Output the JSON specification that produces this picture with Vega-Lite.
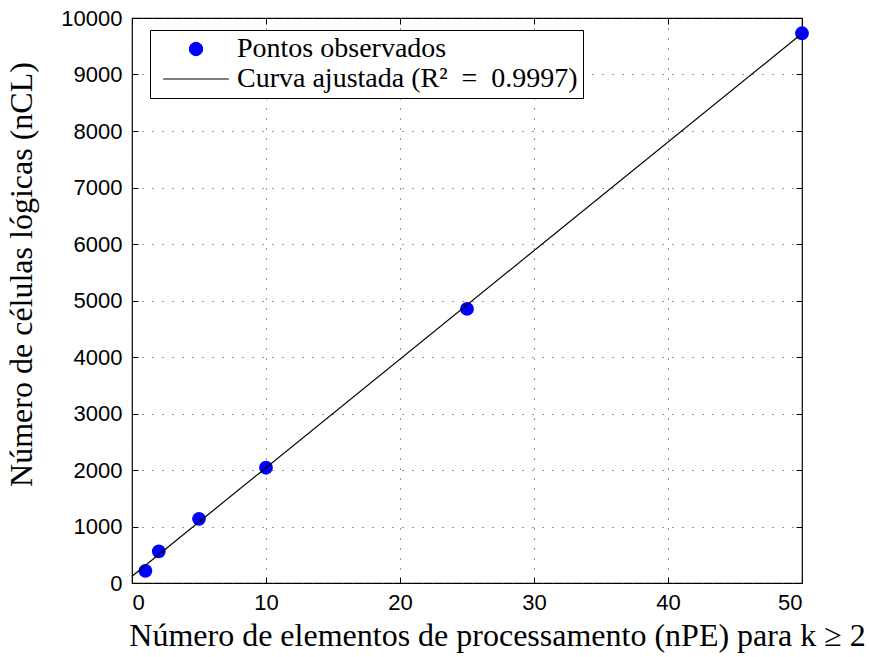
{
  "$schema": "https://vega.github.io/schema/vega-lite/v6.json",
  "width": 670,
  "height": 565,
  "autosize": {"type": "none"},
  "padding": {"left": 132, "top": 18, "right": 67, "bottom": 74},
  "background": "white",
  "datasets": {
    "pontos": [
      {"n": 1, "cl": 215},
      {"n": 2, "cl": 560},
      {"n": 5, "cl": 1135},
      {"n": 10, "cl": 2040},
      {"n": 25, "cl": 4850},
      {"n": 50, "cl": 9730}
    ],
    "curva": [
      {"n": 0, "cl": 120},
      {"n": 50, "cl": 9725}
    ]
  },
  "config": {
    "view": {"stroke": "black", "strokeWidth": 1.2},
    "axis": {
      "domain": false,
      "tickColor": "black",
      "tickSize": -6,
      "tickWidth": 1,
      "labelFont": "Liberation Sans",
      "labelFontSize": 22,
      "labelColor": "black",
      "titleFont": "Liberation Serif",
      "titleFontSize": 32,
      "titleFontWeight": "normal",
      "titleColor": "black",
      "gridColor": "#333333",
      "gridDash": [1, 9],
      "gridOpacity": 1,
      "gridWidth": 1
    },
    "legend": {
      "title": null,
      "orient": "none",
      "legendX": 18,
      "legendY": 12,
      "strokeColor": "black",
      "fillColor": "white",
      "padding": 5,
      "labelFont": "Liberation Serif",
      "labelFontSize": 28,
      "labelColor": "black",
      "labelLimit": 0,
      "symbolSize": 180,
      "symbolOffset": 27,
      "labelOffset": 27,
      "rowPadding": 2
    }
  },
  "layer": [
    {
      "data": {"name": "pontos"},
      "mark": {"type": "point", "filled": true, "size": 190, "opacity": 1},
      "encoding": {
        "x": {
          "field": "n", "type": "quantitative",
          "scale": {"domain": [0, 50], "nice": false, "zero": false},
          "axis": {"values": [0, 10, 20, 30, 40, 50], "grid": true, "labelPadding": 15,
                   "title": "Número de elementos de processamento (nPE) para k ≥ 2", "titlePadding": 7, "titleX": 365}
        },
        "y": {
          "field": "cl", "type": "quantitative",
          "scale": {"domain": [0, 10000], "nice": false, "zero": false},
          "axis": {"values": [0, 1000, 2000, 3000, 4000, 5000, 6000, 7000, 8000, 9000, 10000],
                   "format": "d", "grid": true, "labelPadding": 16,
                   "title": "Número de células lógicas (nCL)", "titlePadding": 22, "titleY": 256}
        },
        "color": {
          "datum": "Pontos observados",
          "type": "nominal",
          "scale": {"domain": ["Pontos observados", "Curva ajustada (R²\u2002=\u20020.9997)\u2003\u2002"], "range": ["#0000ff", "#000000"]},
          "legend": {
            "encode": {
              "symbols": {
                "update": {
                  "shape": {"signal": "datum.value == 'Pontos observados' ? 'circle' : 'M-4.9,0H4.9'"},
                  "size": {"value": 180},
                  "fill": {"signal": "datum.value == 'Pontos observados' ? '#0000ff' : 'transparent'"},
                  "stroke": {"signal": "datum.value == 'Pontos observados' ? 'transparent' : '#000000'"},
                  "strokeWidth": {"value": 1},
                  "opacity": {"value": 1}
                }
              }
            }
          }
        }
      }
    },
    {
      "data": {"name": "curva"},
      "mark": {"type": "line", "strokeWidth": 1.2},
      "encoding": {
        "x": {
          "field": "n", "type": "quantitative",
          "scale": {"domain": [0, 50], "nice": false, "zero": false},
          "axis": {"orient": "top", "values": [0, 10, 20, 30, 40, 50], "labels": false, "grid": false, "title": null}
        },
        "y": {
          "field": "cl", "type": "quantitative",
          "scale": {"domain": [0, 10000], "nice": false, "zero": false},
          "axis": {"orient": "right", "values": [0, 1000, 2000, 3000, 4000, 5000, 6000, 7000, 8000, 9000, 10000],
                   "labels": false, "grid": false, "title": null}
        },
        "color": {
          "datum": "Curva ajustada (R²\u2002=\u20020.9997)\u2003\u2002", "type": "nominal",
          "legend": {
            "encode": {
              "symbols": {
                "update": {
                  "shape": {"signal": "datum.value == 'Pontos observados' ? 'circle' : 'M-4.9,0H4.9'"},
                  "size": {"value": 180},
                  "fill": {"signal": "datum.value == 'Pontos observados' ? '#0000ff' : 'transparent'"},
                  "stroke": {"signal": "datum.value == 'Pontos observados' ? 'transparent' : '#000000'"},
                  "strokeWidth": {"value": 1},
                  "opacity": {"value": 1}
                }
              }
            }
          }
        }
      }
    }
  ],
  "resolve": {"axis": {"x": "independent", "y": "independent"}}
}
